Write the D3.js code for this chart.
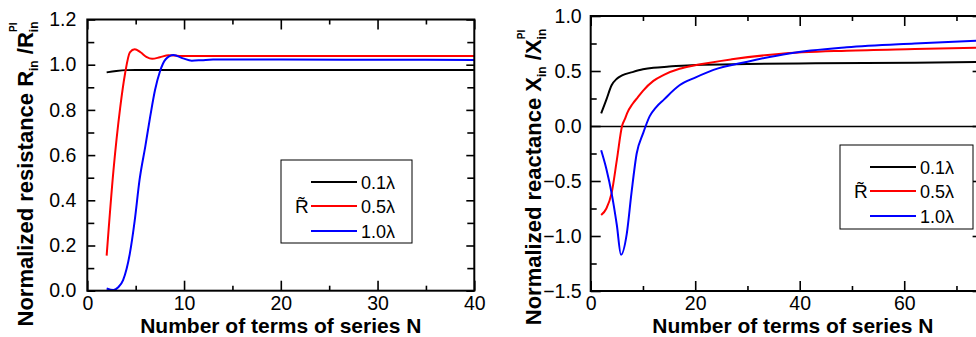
<!DOCTYPE html>
<html>
<head>
<meta charset="utf-8">
<script src="https://cdn.jsdelivr.net/npm/d3@7"></script>
<style>
  body { margin: 0; background: #fff; }
  svg { display: block; font-family: "Liberation Sans", Arial, sans-serif; }
</style>
</head>
<body>
<svg id="chart" width="976" height="337"></svg>
<script>
// ---------- DATA ----------
// Left panel: normalized resistance
const r01N = [2, 3, 4, 5, 6, 8, 10, 20, 30, 40];
const r01  = [0.966, 0.972, 0.976, 0.977, 0.977, 0.977, 0.977, 0.977, 0.977, 0.977];
const r05N = [2, 2.7, 3.4, 3.9, 4.4, 4.9, 5.5, 6.1, 6.7, 7.5, 8.4, 9.5, 11, 20, 30, 40];
const r05  = [0.155, 0.53, 0.81, 0.96, 1.055, 1.068, 1.055, 1.035, 1.026, 1.033, 1.042, 1.039, 1.038, 1.038, 1.038, 1.038];
const r10N = [2, 2.7, 3.2, 3.7, 4.4, 4.9, 5.4, 6.0, 6.5, 7.0, 7.5, 8.1, 8.9, 9.9, 10.8, 11.8, 13, 20, 30, 40];
const r10  = [0.01, 0.003, 0.015, 0.047, 0.165, 0.31, 0.49, 0.64, 0.77, 0.888, 0.969, 1.024, 1.043, 1.028, 1.018, 1.02, 1.023, 1.023, 1.022, 1.021];

// Right panel: normalized reactance
const x01N = [2, 3, 4, 5, 6, 8, 10, 12, 15, 20, 30, 43, 62, 75];
const x01  = [0.115, 0.24, 0.37, 0.43, 0.46, 0.49, 0.515, 0.53, 0.54, 0.555, 0.564, 0.57, 0.576, 0.582];
const x05N = [2, 3, 4, 5, 6, 6.6, 7, 8, 9, 10, 12, 14, 17, 20, 27, 36, 49, 62, 75];
const x05  = [-0.81, -0.75, -0.61, -0.31, 0.0, 0.07, 0.12, 0.2, 0.26, 0.32, 0.41, 0.465, 0.52, 0.552, 0.606, 0.655, 0.685, 0.7, 0.713];
const x10N = [2, 3, 4, 5, 5.8, 6.9, 7.8, 8.8, 10, 11.3, 12.5, 14, 17, 20, 23.5, 30, 38, 49, 62, 75];
const x10  = [-0.22, -0.39, -0.61, -0.9, -1.17, -0.98, -0.61, -0.25, -0.07, 0.09, 0.17, 0.24, 0.37, 0.44, 0.51, 0.585, 0.66, 0.715, 0.75, 0.778];

const seriesLabels = ["0.1λ", "0.5λ", "1.0λ"];
const seriesColors = ["#000000", "#ff0000", "#0000ff"];
const legendSymbol = "R\u0303";

const leftXTicks = [0, 10, 20, 30, 40];
const leftXMinor = [5, 15, 25, 35];
const leftYTicks = [0, 0.2, 0.4, 0.6, 0.8, 1.0, 1.2];
const leftYMinor = [0.1, 0.3, 0.5, 0.7, 0.9, 1.1];
const rightXTicks = [0, 20, 40, 60];
const rightXMinor = [10, 30, 50, 70];
const rightYTicks = [-1.5, -1.0, -0.5, 0.0, 0.5, 1.0];
const rightYMinor = [-1.25, -0.75, -0.25, 0.25, 0.75];

const xTitle = "Number of terms of series N";

// ---------- DRAW ----------
const svg = d3.select("#chart");
svg.append("rect").attr("width", 976).attr("height", 337).attr("fill", "#fff");

function zip(ns, vs) { return ns.map((n, i) => [n, vs[i]]); }

function panel(cfg) {
  const x = d3.scaleLinear().domain(cfg.xDomain).range([cfg.left, cfg.right]);
  const y = d3.scaleLinear().domain(cfg.yDomain).range([cfg.bottom, cfg.top]);
  const g = svg.append("g");
  const id = "clip" + cfg.name;
  svg.append("clipPath").attr("id", id).append("rect")
    .attr("x", cfg.left).attr("y", cfg.top)
    .attr("width", cfg.right - cfg.left).attr("height", cfg.bottom - cfg.top);

  const tickStyle = sel => {
    sel.select(".domain").remove();
    sel.selectAll(".tick line").attr("stroke", "#000").attr("stroke-width", 1.6);
    sel.selectAll("text").attr("fill", "#000").style("font-size", "19.5px")
      .style("font-family", '"Liberation Sans", Arial, sans-serif');
  };

  // bottom
  g.append("g").attr("transform", `translate(0,${cfg.bottom})`)
    .call(d3.axisBottom(x).tickValues(cfg.xTicks).tickSize(-10).tickPadding(5).tickFormat(d3.format("d")))
    .call(tickStyle);
  g.append("g").attr("transform", `translate(0,${cfg.bottom})`)
    .call(d3.axisBottom(x).tickValues(cfg.xMinor).tickSize(-5).tickFormat(""))
    .call(tickStyle);
  // top
  g.append("g").attr("transform", `translate(0,${cfg.top})`)
    .call(d3.axisTop(x).tickValues(cfg.xTicks).tickSize(-10).tickFormat(""))
    .call(tickStyle);
  g.append("g").attr("transform", `translate(0,${cfg.top})`)
    .call(d3.axisTop(x).tickValues(cfg.xMinor).tickSize(-5).tickFormat(""))
    .call(tickStyle);
  // left
  g.append("g").attr("transform", `translate(${cfg.left},0)`)
    .call(d3.axisLeft(y).tickValues(cfg.yTicks).tickSize(-cfg.yMajorLen).tickPadding(cfg.yPad).tickFormat(d3.format(".1f")))
    .call(tickStyle);
  g.append("g").attr("transform", `translate(${cfg.left},0)`)
    .call(d3.axisLeft(y).tickValues(cfg.yMinor).tickSize(-cfg.yMinorLen).tickFormat(""))
    .call(tickStyle);
  // right
  g.append("g").attr("transform", `translate(${cfg.right},0)`)
    .call(d3.axisRight(y).tickValues(cfg.yTicks).tickSize(-cfg.yMajorLen).tickFormat(""))
    .call(tickStyle);
  g.append("g").attr("transform", `translate(${cfg.right},0)`)
    .call(d3.axisRight(y).tickValues(cfg.yMinor).tickSize(-cfg.yMinorLen).tickFormat(""))
    .call(tickStyle);

  // zero line
  if (cfg.zeroLine) {
    g.append("line").attr("x1", cfg.left).attr("x2", cfg.right)
      .attr("y1", Math.round(y(0)) + 0.5).attr("y2", Math.round(y(0)) + 0.5)
      .attr("stroke", "#000").attr("stroke-width", 1.5);
  }

  // curves
  const line = d3.line().x(d => x(d[0])).y(d => y(d[1])).curve(d3.curveMonotoneX);
  cfg.series.forEach((s, i) => {
    g.append("path").datum(s).attr("d", line)
      .attr("fill", "none").attr("stroke", seriesColors[i]).attr("stroke-width", 2)
      .attr("clip-path", `url(#${id})`);
  });

  // frame
  g.append("rect").attr("x", cfg.left).attr("y", cfg.top)
    .attr("width", cfg.right - cfg.left).attr("height", cfg.bottom - cfg.top)
    .attr("fill", "none").attr("stroke", "#000").attr("stroke-width", 2);

  // legend
  const L = cfg.legend;
  const lg = g.append("g").attr("transform", `translate(${L.x},${L.y})`);
  lg.append("rect").attr("width", L.w).attr("height", L.h)
    .attr("fill", "#fff").attr("stroke", "#000").attr("stroke-width", 1);
  const rows = [22, 46, 71];
  seriesLabels.forEach((lab, i) => {
    lg.append("line").attr("x1", 30).attr("x2", 76).attr("y1", rows[i]).attr("y2", rows[i])
      .attr("stroke", seriesColors[i]).attr("stroke-width", 2);
    lg.append("text").attr("x", 80).attr("y", rows[i] + 6.5).text(lab)
      .style("font-size", "18px").attr("fill", "#000");
  });
  lg.append("text").attr("x", 14).attr("y", rows[1] + 7).text(legendSymbol)
    .style("font-size", "19px").attr("fill", "#000");

  // x title
  g.append("text").attr("x", (cfg.left + cfg.titleRight) / 2).attr("y", 333)
    .attr("text-anchor", "middle").style("font-size", "21px").style("font-weight", "bold")
    .text(xTitle);

  // y title
  const yt = g.append("text")
    .attr("transform", `translate(${cfg.yTitleX},${cfg.yTitleY}) rotate(-90)`)
    .attr("text-anchor", "middle").style("font-weight", "bold").style("font-size", "22px");
  yt.append("tspan").text(cfg.yTitleMain + " " + cfg.sym);
  yt.append("tspan").text("in").style("font-size", "12px").attr("dy", 5);
  yt.append("tspan").text(" /" + cfg.sym).attr("dy", -5);
  yt.append("tspan").text("in").style("font-size", "12px").attr("dy", 5);
  yt.append("tspan").text("PI").style("font-size", "10px").attr("dx", -10.5).attr("dy", -21);
}

panel({
  name: "L", xDomain: [0, 40], yDomain: [0, 1.2],
  left: 87.3, right: 474.3, top: 19.5, bottom: 290.7, titleRight: 474.3,
  xTicks: leftXTicks, xMinor: leftXMinor, yTicks: leftYTicks, yMinor: leftYMinor,
  yMajorLen: 8, yMinorLen: 7, yPad: 11,
  series: [zip(r01N, r01), zip(r05N, r05), zip(r10N, r10)],
  legend: { x: 281, y: 160, w: 131, h: 83 },
  yTitleX: 33, yTitleY: 174, yTitleMain: "Normalized resistance", sym: "R",
  zeroLine: false
});

panel({
  name: "R", xDomain: [0, 75], yDomain: [-1.5, 1.0],
  left: 590.7, right: 982.6, top: 16, bottom: 291, titleRight: 995,
  xTicks: rightXTicks, xMinor: rightXMinor, yTicks: rightYTicks, yMinor: rightYMinor,
  yMajorLen: 10, yMinorLen: 6, yPad: 9,
  series: [zip(x01N, x01), zip(x05N, x05), zip(x10N, x10)],
  legend: { x: 840, y: 145, w: 133, h: 84 },
  yTitleX: 541, yTitleY: 177, yTitleMain: "Normalized reactance", sym: "X",
  zeroLine: true
});
</script>
</body>
</html>
